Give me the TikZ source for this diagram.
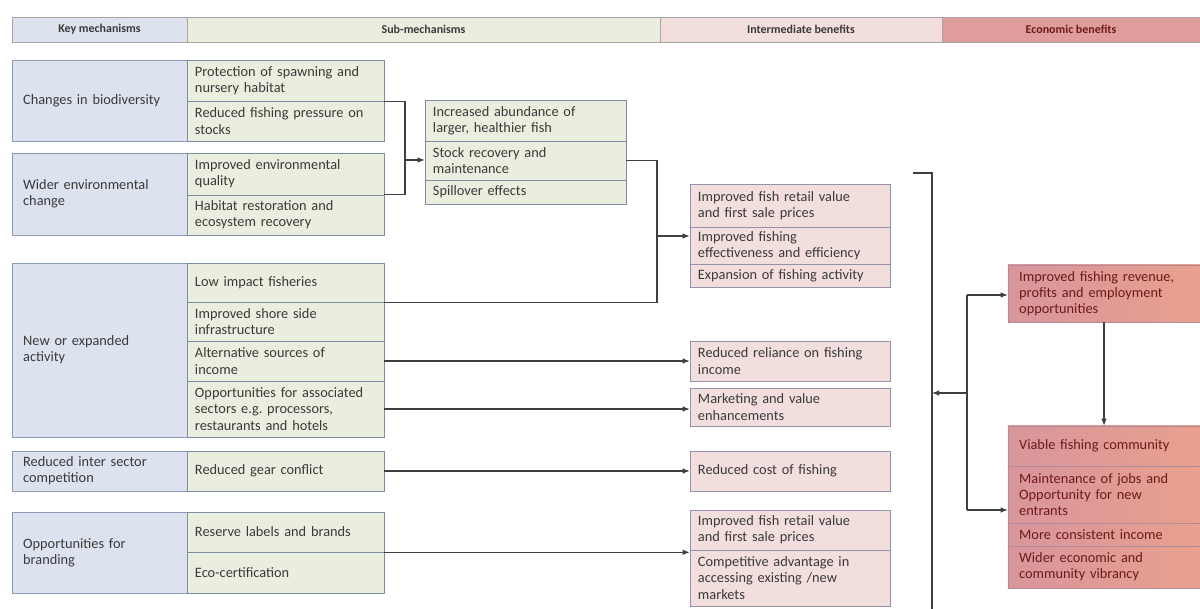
\documentclass[tikz,border=0pt]{standalone}
\usepackage{fontspec}
\setmainfont{Carlito}
\usetikzlibrary{arrows.meta}

\definecolor{keyfill}{HTML}{DCE3EE}
\definecolor{keyline}{HTML}{8A9AB4}
\definecolor{subfill}{HTML}{EBEEDF}
\definecolor{subline}{HTML}{7D8BA3}
\definecolor{intfill}{HTML}{F2DEDD}
\definecolor{intline}{HTML}{9590AE}
\definecolor{ecoleft}{HTML}{D8959C}
\definecolor{ecoright}{HTML}{E9A08E}
\definecolor{ecoline}{HTML}{B08A9A}
\definecolor{ecohead}{HTML}{DE9C9A}
\definecolor{ecotext}{HTML}{6E1A1A}
\definecolor{textgrey}{HTML}{3A3A3A}
\definecolor{linegrey}{HTML}{3F3F3F}

\begin{document}
\begin{tikzpicture}[x=0.025cm, y=-0.025cm,
    cell/.style={draw, rectangle, align=left, inner ysep=1pt, text=textgrey,
        font=\fontsize{10.2}{11.5}\selectfont},
    keycell/.style={cell, fill=keyfill, draw=keyline, inner xsep=0.28cm,
        minimum width=4.375cm, text width=3.815cm},
    subcell/.style={cell, fill=subfill, draw=subline, inner xsep=0.2cm,
        minimum width=4.925cm, text width=4.525cm},
    midcell/.style={cell, fill=subfill, draw=subline, inner xsep=0.2cm,
        minimum width=5.025cm, text width=4.625cm},
    intcell/.style={cell, fill=intfill, draw=intline, inner xsep=0.2cm,
        minimum width=5cm, text width=4.6cm},
    ecocell/.style={cell, left color=ecoleft, right color=ecoright, draw=ecoline,
        text=ecotext, inner xsep=0.28cm, minimum width=4.8cm, text width=4.24cm},
    headcell/.style={draw=gray!70, rectangle, align=center, text=textgrey,
        minimum height=0.625cm, font=\bfseries\fontsize{8.5}{10}\selectfont},
    link/.style={line width=0.8pt, draw=linegrey},
    arr/.style={link, -{Latex[length=5pt,width=4pt]}}]

    \useasboundingbox (0,0) rectangle (1200,609);

    % Header row
    \node[headcell, fill=keyfill, minimum width=4.375cm] (hkey) at (99.5,29.5) {Key mechanisms};
    \node[headcell, fill=subfill, minimum width=11.825cm] (hsub) at (423.5,29.5) {Sub-mechanisms};
    \node[headcell, fill=intfill, minimum width=7.05cm] (hint) at (801,29.5) {Intermediate benefits};
    \node[headcell, fill=ecohead, text=ecotext, minimum width=6.45cm] (heco) at (1071,29.5) {Economic benefits};

    % Key mechanisms
    \node[keycell, minimum height=2.025cm] (bio) at (99.5,100.5) {Changes in biodiversity};
    \node[keycell, minimum height=2.05cm] (env) at (99.5,194) {Wider environmental\\change};
    \node[keycell, minimum height=4.35cm] (act) at (99.5,350) {New or expanded\\activity};
    \node[keycell, minimum height=1cm] (comp) at (99.5,471) {Reduced inter sector\\competition};
    \node[keycell, minimum height=2.025cm] (brand) at (99.5,552.5) {Opportunities for\\branding};

    % Sub-mechanisms
    \node[subcell, minimum height=1.025cm] (spawn) at (285.5,80.5) {Protection of spawning and\\nursery habitat};
    \node[subcell, minimum height=1cm] (press) at (285.5,121) {Reduced fishing pressure on\\stocks};
    \node[subcell, minimum height=1.05cm] (qual) at (285.5,174) {Improved environmental\\quality};
    \node[subcell, minimum height=1cm] (hab) at (285.5,215) {Habitat restoration and\\ecosystem recovery};
    \node[subcell, minimum height=0.975cm] (low) at (285.5,282.5) {Low impact fisheries};
    \node[subcell, minimum height=0.975cm] (shore) at (285.5,321.5) {Improved shore side\\infrastructure};
    \node[subcell, minimum height=1cm] (alt) at (285.5,361) {Alternative sources of\\income};
    \node[subcell, minimum height=1.4cm] (assoc) at (285.5,409) {Opportunities for associated\\sectors e.g.\ processors,\\restaurants and hotels};
    \node[subcell, minimum height=1cm] (gear) at (285.5,471) {Reduced gear conflict};
    \node[subcell, minimum height=1cm] (label) at (285.5,532) {Reserve labels and brands};
    \node[subcell, minimum height=1.025cm] (eco) at (285.5,572.5) {Eco-certification};

    % Stock effects
    \node[midcell, minimum height=1.025cm] (abund) at (525.5,120.5) {Increased abundance of\\larger, healthier fish};
    \node[midcell, minimum height=0.975cm] (stock) at (525.5,160.5) {Stock recovery and\\maintenance};
    \node[midcell, minimum height=0.6cm] (spill) at (525.5,192) {Spillover effects};

    % Intermediate benefits
    \node[intcell, minimum height=1.075cm] (retail) at (790,205.5) {Improved fish retail value\\and first sale prices};
    \node[intcell, minimum height=0.925cm] (effic) at (790,245.5) {Improved fishing\\effectiveness and efficiency};
    \node[intcell, minimum height=0.575cm] (expan) at (790,275.5) {Expansion of fishing activity};
    \node[intcell, minimum height=1cm] (relian) at (790,361) {Reduced reliance on fishing\\income};
    \node[intcell, minimum height=0.95cm] (market) at (790,407) {Marketing and value\\enhancements};
    \node[intcell, minimum height=1cm] (cost) at (790,471) {Reduced cost of fishing};
    \node[intcell, minimum height=1cm] (retailb) at (790,530) {Improved fish retail value\\and first sale prices};
    \node[intcell, minimum height=1.4cm] (compet) at (790,578) {Competitive advantage in\\accessing existing /new\\markets};

    % Economic benefits
    \node[ecocell, minimum height=1.425cm] (rev) at (1104,293.5) {Improved fishing revenue,\\profits and employment\\opportunities};
    \node[ecocell, minimum height=1cm] (viable) at (1104,446) {Viable fishing community};
    \node[ecocell, minimum height=1.425cm] (jobs) at (1104,494.5) {Maintenance of jobs and\\Opportunity for new\\entrants};
    \node[ecocell, minimum height=0.575cm] (income) at (1104,534.5) {More consistent income};
    \node[ecocell, minimum height=1.05cm] (vibr) at (1104,567) {Wider economic and\\community vibrancy};

    % Junction points
    \coordinate (j1) at (405,160);
    \coordinate (j2) at (657,236);
    \coordinate (b1) at (913,173);
    \coordinate (b2) at (932,173);
    \coordinate (b3) at (932,609);
    \coordinate (c1) at (932,393);
    \coordinate (c2) at (967,393);
    \coordinate (k1) at (967,295);
    \coordinate (k2) at (967,510);

    % Ecological links into stock effects
    \draw[link] (spawn.south east) -| (j1) |- (hab.north east);
    \draw[arr] (j1) -- (j1 -| stock.west);

    % Stock effects and low impact fisheries
    \draw[link] (stock.east) -| (j2) |- (low.south east);
    \draw[arr] (j2) -- (j2 -| effic.west);

    % Direct links
    \draw[arr] (alt.east) -- (alt.east -| relian.west);
    \draw[arr] (assoc.east) -- (assoc.east -| market.west);
    \draw[arr] (gear.east) -- (gear.east -| cost.west);
    \draw[arr] (label.south east) -- (label.south east -| retailb.west);

    % Collecting bracket
    \draw[link] (b1) -- (b2) -- (b3);
    \draw[arr] (c2) -- (c1);
    \draw[link] (k1) -- (k2);
    \draw[arr] (k1) -- (k1 -| rev.west);
    \draw[arr] (k2) -- (k2 -| jobs.west);
    \draw[arr] (rev.south) -- (viable.north);
\end{tikzpicture}
\end{document}
